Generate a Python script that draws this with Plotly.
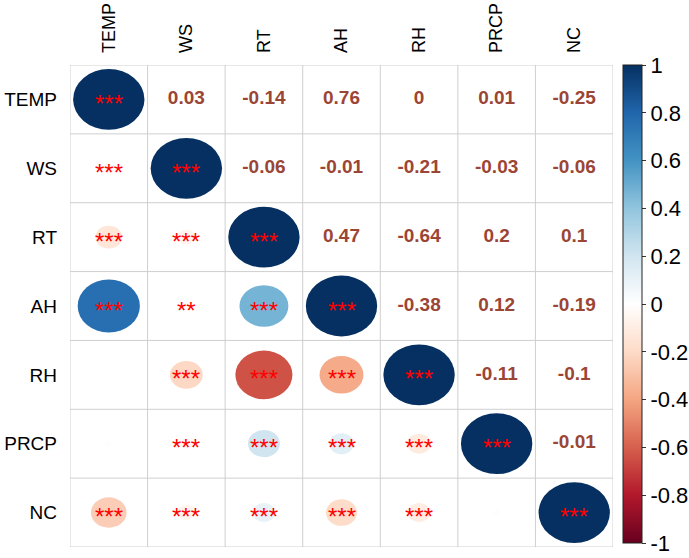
import plotly.graph_objects as go
from plotly.colors import sample_colorscale
import math

labels = ["TEMP", "WS", "RT", "AH", "RH", "PRCP", "NC"]

corr = [
    [1.00, 0.03, -0.14, 0.76, 0.00, 0.01, -0.25],
    [0.03, 1.00, -0.06, -0.01, -0.21, -0.03, -0.06],
    [-0.14, -0.06, 1.00, 0.47, -0.64, 0.20, 0.10],
    [0.76, -0.01, 0.47, 1.00, -0.38, 0.12, -0.19],
    [0.00, -0.21, -0.64, -0.38, 1.00, -0.11, -0.10],
    [0.01, -0.03, 0.20, 0.12, -0.11, 1.00, -0.01],
    [-0.25, -0.06, 0.10, -0.19, -0.10, -0.01, 1.00],
]

# significance stars for the lower triangle (incl. diagonal)
stars = [
    ["***"],
    ["***", "***"],
    ["***", "***", "***"],
    ["***", "**", "***", "***"],
    ["", "***", "***", "***", "***"],
    ["", "***", "***", "***", "***", "***"],
    ["***", "***", "***", "***", "***", "", "***"],
]

cbar_ticks = [1, 0.8, 0.6, 0.4, 0.2, 0, -0.2, -0.4, -0.6, -0.8, -1]

rdbu = ["#67001F", "#B2182B", "#D6604D", "#F4A582", "#FDDBC7", "#FFFFFF",
        "#D1E5F0", "#92C5DE", "#4393C3", "#2166AC", "#053061"]
colorscale = [[i / (len(rdbu) - 1), c] for i, c in enumerate(rdbu)]

def fmt(v):
    s = ("%.2f" % v).rstrip("0").rstrip(".")
    if s in ("-0", ""):
        s = "0"
    return s

n = len(labels)
fig = go.Figure()

# grid
shapes = []
for k in range(n + 1):
    shapes.append(dict(type="line", xref="x", yref="y", x0=k - 0.5, x1=k - 0.5,
                       y0=-0.5, y1=n - 0.5, line=dict(color="#CFCFCF", width=1), layer="below"))
    shapes.append(dict(type="line", xref="x", yref="y", y0=k - 0.5, y1=k - 0.5,
                       x0=-0.5, x1=n - 0.5, line=dict(color="#CFCFCF", width=1), layer="below"))

# circles in lower triangle (area proportional to |r|)
half = 0.46
for i in range(n):
    for j in range(i + 1):
        r = corr[i][j]
        rad = half * math.sqrt(abs(r))
        if rad <= 0:
            continue
        col = sample_colorscale(colorscale, [(r + 1) / 2])[0]
        shapes.append(dict(type="circle", xref="x", yref="y",
                           x0=j - rad, x1=j + rad, y0=i - rad * 0.96, y1=i + rad * 0.96,
                           fillcolor=col, line=dict(width=0), layer="above"))

# numbers in upper triangle
nx, ny, nt = [], [], []
for i in range(n):
    for j in range(i + 1, n):
        nx.append(j)
        ny.append(i)
        nt.append(fmt(corr[i][j]))
fig.add_trace(go.Scatter(x=nx, y=ny, text=nt, mode="text", hoverinfo="skip",
                         textfont=dict(family="Liberation Sans, Arial", size=19, color="#9B4535",
                                       weight="bold"),
                         showlegend=False))

# stars
sx, sy, st = [], [], []
for i in range(n):
    for j in range(i + 1):
        if stars[i][j]:
            sx.append(j)
            sy.append(i)
            st.append(stars[i][j])
for x, y, t in zip(sx, sy, st):
    fig.add_annotation(x=x, y=y, text=t, showarrow=False, yshift=-4,
                       font=dict(family="Liberation Sans, Arial", size=24, color="#FF0000"))

# colorbar
fig.add_trace(go.Scatter(x=[0], y=[0], mode="markers", hoverinfo="skip", showlegend=False,
                         marker=dict(size=0.0001, color=[0], cmin=-1, cmax=1,
                                     colorscale=colorscale, showscale=True,
                                     colorbar=dict(x=1.018, xanchor="left", y=1, yanchor="top",
                                                   xpad=0, ypad=0,
                                                   len=478, lenmode="pixels", thickness=19,
                                                   outlinecolor="#222222", outlinewidth=1,
                                                   tickmode="array",
                                                   tickvals=cbar_ticks,
                                                   ticktext=[fmt(v) for v in cbar_ticks],
                                                   ticks="outside", ticklen=4, tickcolor="#333333",
                                                   tickfont=dict(family="Liberation Sans, Arial",
                                                                 size=22, color="black")))))

fig.update_layout(
    width=689, height=558,
    margin=dict(l=70, r=76, t=65, b=11, autoexpand=False),
    paper_bgcolor="white", plot_bgcolor="white",
    shapes=shapes,
    xaxis=dict(range=[-0.5, n - 0.5], side="top", tickvals=list(range(n)), ticktext=labels,
               tickangle=-90, showgrid=False, zeroline=False, showline=False, ticks="",
               ticklabelstandoff=11, automargin=False,
               tickfont=dict(family="Liberation Sans, Arial", size=18, color="black")),
    yaxis=dict(range=[n - 0.5, -0.5], tickvals=list(range(n)), ticktext=labels,
               showgrid=False, zeroline=False, showline=False, ticks="",
               ticklabelstandoff=12, automargin=False,
               tickfont=dict(family="Liberation Sans, Arial", size=19, color="black")),
)

fig.write_html("out.html", config={"displayModeBar": False},
               post_script="document.body.style.margin='0';")
